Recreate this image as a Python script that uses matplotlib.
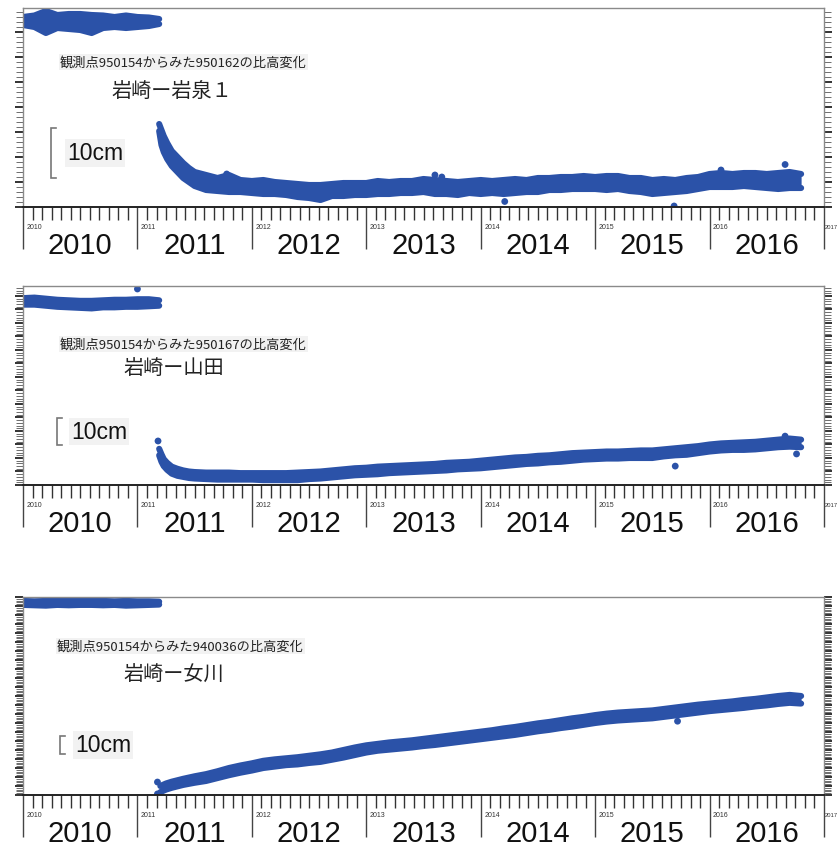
import matplotlib.pyplot as plt
from matplotlib.ticker import MultipleLocator
import numpy as np

plt.rcParams['font.family'] = ['Liberation Sans', 'Noto Sans CJK JP']
JP = ['Noto Sans CJK JP', 'DejaVu Sans']

BLUE = '#2b52a8'
YEARS = list(range(2010, 2018))

# ---- 岩崎ー岩泉１ (cm) ----
p1_pre_x = [2010.0, 2010.1, 2010.2, 2010.3, 2010.4, 2010.5, 2010.6, 2010.7,
            2010.8, 2010.9, 2011.0, 2011.1, 2011.19]
p1_pre_top = [38.0, 38.3, 39.2, 38.4, 38.6, 38.6, 38.4, 38.3, 38.0, 38.3, 38.0, 37.9, 37.6]
p1_pre_bot = [36.4, 36.0, 34.8, 35.8, 35.6, 35.4, 34.8, 35.8, 36.0, 35.8, 36.0, 36.2, 36.6]

p1_post_x = [2011.19, 2011.21, 2011.23, 2011.26, 2011.30, 2011.35, 2011.40, 2011.45,
             2011.50, 2011.6, 2011.7, 2011.8, 2011.9, 2012.0, 2012.1, 2012.2, 2012.3,
             2012.4, 2012.5, 2012.6, 2012.7, 2012.8, 2012.9, 2013.0, 2013.1, 2013.2,
             2013.3, 2013.4, 2013.5, 2013.6, 2013.7, 2013.8, 2013.9, 2014.0, 2014.1,
             2014.2, 2014.3, 2014.4, 2014.5, 2014.6, 2014.7, 2014.8, 2014.9, 2015.0,
             2015.1, 2015.2, 2015.3, 2015.4, 2015.5, 2015.6, 2015.7, 2015.8, 2015.9,
             2016.0, 2016.1, 2016.2, 2016.3, 2016.4, 2016.5, 2016.6, 2016.7, 2016.8]
p1_post_top = [16.6, 15.4, 14.2, 12.8, 11.2, 10.0, 8.8, 7.8, 7.0, 6.4, 5.8, 6.4, 5.4,
               5.2, 5.4, 5.0, 4.8, 4.6, 4.4, 4.4, 4.6, 4.8, 4.8, 4.8, 5.2, 5.0, 5.2,
               5.2, 5.6, 5.4, 5.2, 5.0, 5.2, 5.4, 5.2, 5.4, 5.6, 5.4, 5.8, 5.8, 6.0,
               6.0, 6.2, 6.0, 6.2, 6.2, 5.8, 5.8, 5.4, 5.6, 5.4, 5.8, 6.0, 6.6, 6.8,
               6.6, 6.8, 6.8, 6.6, 6.8, 7.0, 6.6]
p1_post_bot = [15.2, 12.4, 11.0, 9.6, 8.2, 7.0, 5.8, 5.0, 4.2, 3.4, 3.2, 3.0, 3.0,
               2.8, 2.6, 2.6, 2.4, 2.0, 1.8, 1.4, 2.2, 2.2, 2.4, 2.4, 2.6, 2.6, 2.8,
               2.8, 3.0, 2.6, 2.6, 2.4, 2.8, 2.6, 2.8, 2.6, 2.8, 3.0, 3.0, 3.4, 3.4,
               3.6, 3.6, 3.6, 3.4, 3.6, 3.2, 3.0, 2.6, 2.8, 3.0, 3.2, 3.6, 4.0, 4.0,
               4.0, 4.2, 4.0, 3.8, 3.6, 3.8, 3.8]
p1_out_x = [2011.78, 2013.60, 2013.66, 2014.21, 2015.69, 2016.10, 2016.66]
p1_out_y = [6.6, 6.4, 6.0, 1.1, 0.2, 7.4, 8.5]

# ---- 岩崎ー山田 (cm) ----
p2_pre_x = p1_pre_x
p2_pre_top = [69.2, 69.4, 69.0, 68.6, 68.4, 68.2, 68.2, 68.4, 68.6, 68.6, 68.8, 68.8, 68.4]
p2_pre_bot = [66.8, 66.8, 66.4, 66.0, 65.8, 65.6, 65.4, 65.8, 65.8, 66.0, 66.0, 66.2, 66.4]

p2_post_x = p1_post_x
p2_post_top = [13.4, 11.4, 9.6, 8.2, 6.8, 6.0, 5.4, 5.0, 4.8, 4.6, 4.6, 4.6, 4.4, 4.4,
               4.4, 4.4, 4.4, 4.6, 4.8, 5.0, 5.4, 5.8, 6.2, 6.4, 6.8, 7.0, 7.2, 7.4,
               7.6, 7.8, 8.2, 8.4, 8.6, 9.0, 9.4, 9.8, 10.2, 10.4, 10.8, 11.0, 11.4,
               11.8, 12.0, 12.2, 12.4, 12.4, 12.6, 12.8, 12.8, 13.2, 13.6, 14.0, 14.4,
               15.0, 15.4, 15.6, 15.8, 16.0, 16.4, 16.8, 17.2, 16.8]
p2_post_bot = [11.0, 8.6, 7.0, 5.6, 4.2, 3.4, 3.0, 2.6, 2.4, 2.2, 2.0, 2.0, 2.0, 2.0,
               1.8, 1.8, 1.8, 1.8, 2.2, 2.4, 2.8, 3.2, 3.6, 3.8, 4.0, 4.4, 4.6, 4.8,
               5.0, 5.2, 5.4, 5.8, 6.0, 6.2, 6.6, 7.0, 7.4, 7.8, 8.0, 8.4, 8.6, 9.0,
               9.4, 9.6, 9.8, 9.8, 10.0, 10.0, 10.0, 10.6, 11.0, 11.2, 11.8, 12.4,
               12.8, 13.0, 13.0, 13.2, 13.6, 14.0, 14.2, 14.0]
p2_out_x = [2011.0, 2011.18, 2015.70, 2016.66, 2016.76]
p2_out_y = [72.6, 16.3, 7.0, 18.1, 11.5]

# ---- 岩崎ー女川 (cm) ----
p3_pre_x = p1_pre_x
p3_pre_top = [107.8, 107.6, 107.8, 108.0, 108.2, 108.4, 108.2, 107.8, 107.6, 107.8,
              107.6, 107.6, 107.4]
p3_pre_bot = [105.6, 105.4, 105.2, 105.6, 105.4, 105.6, 105.6, 105.4, 105.6, 105.2,
              105.4, 105.6, 105.8]

p3_post_x = [2011.20, 2011.25, 2011.30, 2011.40, 2011.50, 2011.6, 2011.7, 2011.8,
             2011.9, 2012.0, 2012.1, 2012.2, 2012.3, 2012.4, 2012.5, 2012.6, 2012.7,
             2012.8, 2012.9, 2013.0, 2013.1, 2013.2, 2013.3, 2013.4, 2013.5, 2013.6,
             2013.7, 2013.8, 2013.9, 2014.0, 2014.1, 2014.2, 2014.3, 2014.4, 2014.5,
             2014.6, 2014.7, 2014.8, 2014.9, 2015.0, 2015.1, 2015.2, 2015.3, 2015.4,
             2015.5, 2015.6, 2015.7, 2015.8, 2015.9, 2016.0, 2016.1, 2016.2, 2016.3,
             2016.4, 2016.5, 2016.6, 2016.7, 2016.8]
p3_post_top = [5.0, 6.4, 7.4, 9.0, 10.4, 11.6, 13.2, 15.0, 16.4, 17.6, 19.0, 19.8, 20.4,
               21.0, 21.8, 22.6, 23.6, 25.0, 26.4, 27.6, 28.4, 29.2, 29.8, 30.4, 31.2,
               32.0, 32.8, 33.6, 34.4, 35.2, 36.0, 37.0, 37.8, 38.8, 39.8, 40.6, 41.6,
               42.6, 43.4, 44.4, 45.2, 45.8, 46.2, 46.6, 47.0, 47.8, 48.6, 49.4, 50.2,
               50.8, 51.4, 52.0, 52.8, 53.4, 54.2, 55.0, 55.6, 55.0]
p3_post_bot = [1.6, 3.0, 4.0, 5.6, 6.8, 7.8, 9.4, 11.0, 12.4, 13.6, 15.0, 15.8, 16.6,
               17.0, 17.8, 18.4, 19.6, 20.8, 22.2, 23.6, 24.6, 25.2, 25.8, 26.4, 27.2,
               27.8, 28.6, 29.4, 30.2, 31.0, 31.8, 32.6, 33.4, 34.4, 35.4, 36.2, 37.2,
               38.0, 39.0, 40.0, 40.8, 41.4, 41.8, 42.2, 42.6, 43.4, 44.2, 45.0, 45.8,
               46.6, 47.2, 47.8, 48.4, 49.2, 49.8, 50.6, 51.2, 50.8]
p3_out_x = [2011.175, 2011.175, 2015.72]
p3_out_y = [7.2, 0.6, 41.0]

panels = [
    dict(pre=(p1_pre_x, p1_pre_top, p1_pre_bot), post=(p1_post_x, p1_post_top, p1_post_bot),
         out=(p1_out_x, p1_out_y), ymax=39.8, top_px=9, bot_px=208,
         note='観測点950154からみた950162の比高変化', title='岩崎ー岩泉１',
         note_xy=(60, 63), title_xy=(111, 92), bar_x=2010.245, bar_y=5.8, lab_x=2010.385),
    dict(pre=(p2_pre_x, p2_pre_top, p2_pre_bot), post=(p2_post_x, p2_post_top, p2_post_bot),
         out=(p2_out_x, p2_out_y), ymax=73.7, top_px=287, bot_px=486,
         note='観測点950154からみた950167の比高変化', title='岩崎ー山田',
         note_xy=(60, 345), title_xy=(123, 368), bar_x=2010.30, bar_y=14.8, lab_x=2010.42),
    dict(pre=(p3_pre_x, p3_pre_top, p3_pre_bot), post=(p3_post_x, p3_post_top, p3_post_bot),
         out=(p3_out_x, p3_out_y), ymax=110.0, top_px=598, bot_px=796,
         note='観測点950154からみた940036の比高変化', title='岩崎ー女川',
         note_xy=(57, 647), title_xy=(123, 675), bar_x=2010.32, bar_y=22.8, lab_x=2010.455),
]

W, H = 840, 853
fig = plt.figure(figsize=(W / 100, H / 100), dpi=100)

for p in panels:
    h = p['bot_px'] - p['top_px']
    ax = fig.add_axes([23 / W, 1 - p['bot_px'] / H, 801 / W, h / H])
    ax.set_xlim(2010, 2017)
    ax.set_ylim(0, p['ymax'])

    # dense daily points shown as a band between upper and lower envelopes
    for x, top, bot in (p['pre'], p['post']):
        ax.fill_between(x, bot, top, color=BLUE, linewidth=0)
        for edge in (top, bot):
            ax.plot(x, edge, color=BLUE, lw=4.4, solid_capstyle='round',
                    solid_joinstyle='round')
    ax.scatter(p['out'][0], p['out'][1], s=24, color=BLUE, edgecolors='none')

    # frame
    for side in ('top', 'left', 'right'):
        ax.spines[side].set_color('#8a8a8a')
        ax.spines[side].set_linewidth(1.0)
    ax.spines['bottom'].set_color('#222222')
    ax.spines['bottom'].set_linewidth(1.4)

    # x axis: years + months
    ax.set_xticks(YEARS)
    ax.xaxis.set_minor_locator(MultipleLocator(1 / 12))
    ax.tick_params(axis='x', which='major', direction='out', length=30, width=1.0,
                   color='#444444', labelbottom=False)
    ax.tick_params(axis='x', which='minor', direction='out', length=9.5, width=1.0,
                   color='#333333')

    # y axis: 1 cm minor, 5 cm major on both sides
    ax.yaxis.set_major_locator(MultipleLocator(5))
    ax.yaxis.set_minor_locator(MultipleLocator(1))
    ax.tick_params(axis='y', which='both', direction='out', left=True, right=True,
                   labelleft=False, labelright=False)
    ax.tick_params(axis='y', which='major', length=5.5, width=1.3, color='#222222')
    ax.tick_params(axis='y', which='minor', length=5.0, width=0.6, color='#555555')

    xt = ax.get_xaxis_transform()
    for yr in YEARS:
        last = yr == YEARS[-1]
        ax.text(yr + (0.01 if last else 0.03), -20 / h, str(yr), transform=xt,
                fontsize=4.2 if last else 5, color='#333333', ha='left',
                va='center', clip_on=False)
        if not last:
            ax.text(yr + 0.5, -38 / h, str(yr), transform=xt, fontsize=21,
                    color='#111111', ha='center', va='center')

    # 10 cm scale bracket
    bx, by = p['bar_x'], p['bar_y']
    ax.plot([bx + 0.045, bx, bx, bx + 0.045], [by, by, by + 10, by + 10],
            color='#777777', lw=1.2, solid_joinstyle='miter')
    ax.text(p['lab_x'], by + 5, '10cm', fontsize=16.5, color='#111111',
            ha='left', va='center',
            bbox=dict(facecolor='#f2f2f2', edgecolor='none', pad=1.5))

    nx, ny = p['note_xy']
    fig.text(nx / W, 1 - ny / H, p['note'], family=JP, fontsize=9.5,
             color='#222222', ha='left', va='center',
             bbox=dict(facecolor='#f2f2f2', edgecolor='none', pad=1.0))
    tx, ty = p['title_xy']
    fig.text(tx / W, 1 - ty / H, p['title'], family=JP, fontsize=14.5,
             color='#222222', ha='left', va='center')

fig.savefig('out.png', dpi=100)
